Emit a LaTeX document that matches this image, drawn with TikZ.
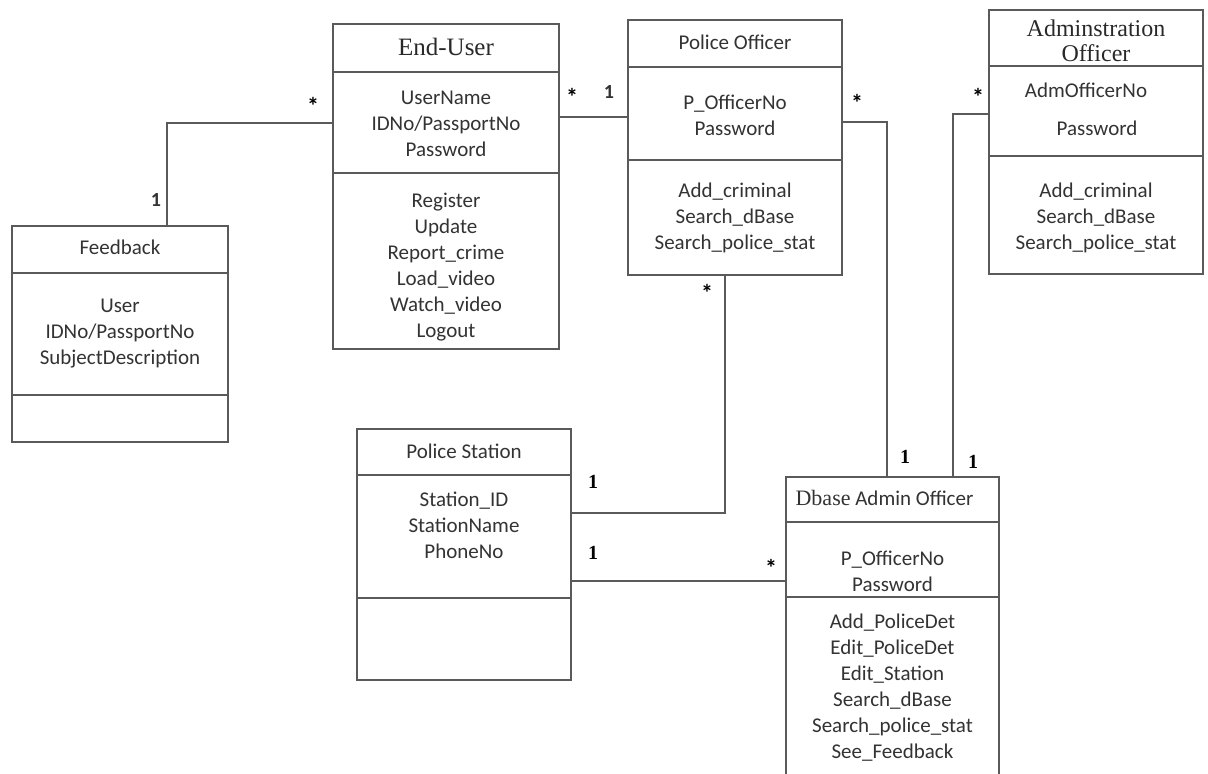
\documentclass[tikz,border=0pt]{standalone}
\usepackage{fontspec}
\setmainfont{Carlito}
\newfontfamily\titleserif{Liberation Serif}
\usetikzlibrary{calc}

\definecolor{boxgray}{HTML}{5A5A5A}
\definecolor{inkgray}{HTML}{333333}

\tikzset{
  boxline/.style={draw=boxgray, line width=1.5pt},
  umlbox/.style={boxline, anchor=north west, inner sep=0pt, outer sep=0pt, fill=white},
  wire/.style={draw=boxgray, line width=1.5pt},
  cls/.style={text=inkgray, font=\fontsize{21}{26}\selectfont, inner sep=0pt},
  sertitle/.style={text=inkgray!80!black, font=\titleserif\fontsize{24}{25}\selectfont, inner sep=0pt},
  members/.style={text=inkgray, font=\fontsize{21}{26}\selectfont, align=center, inner sep=0pt},
  many/.style={text=black, font=\bfseries\fontsize{24}{24}\selectfont, inner sep=0pt},
  onesans/.style={text=inkgray, font=\bfseries\fontsize{20}{20}\selectfont, inner sep=0pt},
  oneserif/.style={text=black, font=\titleserif\bfseries\fontsize{20}{20}\selectfont, inner sep=0pt}
}

% horizontal compartment line inside a class box
\newcommand\compline[2]{\draw[boxline] ($(#1.north west)+(0,#2)$) -- ($(#1.north east)+(0,#2)$);}

\begin{document}
\begin{tikzpicture}[x=1pt, y=-1pt]
\clip (0,0) rectangle (1208,774);
\fill[white] (0,0) rectangle (1208,774);

% ---------- class boxes ----------
\node[umlbox, minimum width=216pt, minimum height=216pt] (fb) at (12,226) {};
\compline{fb}{47}
\compline{fb}{169}
\node[cls] (fbT) at ($(fb.north)+(0,21)$) {Feedback};
\node[members] (fbA) at ($(fb.north)+(0,108)$) {User\\IDNo/PassportNo\\SubjectDescription};

\node[umlbox, minimum width=226pt, minimum height=325pt] (eu) at (333,24) {};
\compline{eu}{48}
\compline{eu}{149}
\node[sertitle, font=\titleserif\fontsize{25}{26}\selectfont] (euT) at ($(eu.north)+(0,23)$) {End-User};
\node[members] (euA) at ($(eu.north)+(0,100)$) {UserName\\IDNo/PassportNo\\Password};
\node[members] (euO) at ($(eu.north)+(0,243.5)$) {Register\\Update\\Report\_crime\\Load\_video\\Watch\_video\\Logout};

\node[umlbox, minimum width=214pt, minimum height=255pt] (po) at (628,20) {};
\compline{po}{47}
\compline{po}{140}
\node[cls] (poT) at ($(po.north)+(0,22)$) {Police Officer};
\node[members] (poA) at ($(po.north)+(0,95)$) {P\_OfficerNo\\Password};
\node[members] (poO) at ($(po.north)+(0,198)$) {Add\_criminal\\Search\_dBase\\Search\_police\_stat};

\node[umlbox, minimum width=214pt, minimum height=264pt] (ao) at (989,10) {};
\compline{ao}{56}
\compline{ao}{146}
\node[sertitle, align=center] (aoT) at ($(ao.north)+(0,31)$) {Adminstration\\Officer};
\node[cls] (aoA1) at ($(ao.north)+(-10,80)$) {AdmOfficerNo};
\node[cls] (aoA2) at ($(ao.north)+(1,118)$) {Password};
\node[members] (aoO) at ($(ao.north)+(0,208)$) {Add\_criminal\\Search\_dBase\\Search\_police\_stat};

\node[umlbox, minimum width=214pt, minimum height=251pt] (ps) at (357,429) {};
\compline{ps}{46}
\compline{ps}{169}
\node[cls] (psT) at ($(ps.north)+(0,22)$) {Police Station};
\node[members] (psA) at ($(ps.north)+(0,96)$) {Station\_ID\\StationName\\PhoneNo};

\node[umlbox, minimum width=213pt, minimum height=330pt] (db) at (786,477) {};
\compline{db}{45}
\compline{db}{120}
\node[cls] (dbT) at ($(db.north)+(-8,21)$) {{\titleserif\fontsize{22}{22}\selectfont Dbase} Admin Officer};
\node[members] (dbA) at ($(db.north)+(0,94.5)$) {P\_OfficerNo\\Password};
\node[members] (dbO) at ($(db.north)+(0,210.5)$) {Add\_PoliceDet\\Edit\_PoliceDet\\Edit\_Station\\Search\_dBase\\Search\_police\_stat\\See\_Feedback};

% ---------- connector end points ----------
\coordinate (fbTop) at ($(fb.north west)+(155,0)$);
\coordinate (euL)   at ($(eu.north west)+(0,99)$);
\coordinate (euR)   at ($(eu.north east)+(0,93)$);
\coordinate (poR)   at ($(po.north east)+(0,102)$);
\coordinate (poB)   at ($(po.south west)+(97,0)$);
\coordinate (aoL)   at ($(ao.north west)+(0,104)$);
\coordinate (psR1)  at ($(ps.north east)+(0,84)$);
\coordinate (psR2)  at ($(ps.north east)+(0,152)$);
\coordinate (dbT1)  at ($(db.north west)+(101,0)$);
\coordinate (dbT2)  at ($(db.north west)+(167,0)$);

% ---------- associations ----------
\draw[wire] (fbTop) |- (euL);
\draw[wire] (euR) -- (euR -| po.west);
\draw[wire] (poR) -| (dbT1);
\draw[wire] (aoL) -| (dbT2);
\draw[wire] (poB) |- (psR1);
\draw[wire] (psR2) -- (psR2 -| db.west);

% ---------- multiplicities ----------
\node[many]    (m1) at (313,106) {*};
\node[onesans] (m2) at (156,200) {1};
\node[many]    (m3) at (572,97) {*};
\node[onesans] (m4) at (609,92) {1};
\node[many]    (m5) at (857,103) {*};
\node[many]    (m6) at (978,97) {*};
\node[many]    (m7) at (707,293) {*};
\node[oneserif] (m8) at (593,482) {1};
\node[oneserif] (m9) at (593,553) {1};
\node[many]    (m10) at (771,568) {*};
\node[oneserif] (m11) at (905,457) {1};
\node[oneserif] (m12) at (973,462) {1};
\end{tikzpicture}
\end{document}
